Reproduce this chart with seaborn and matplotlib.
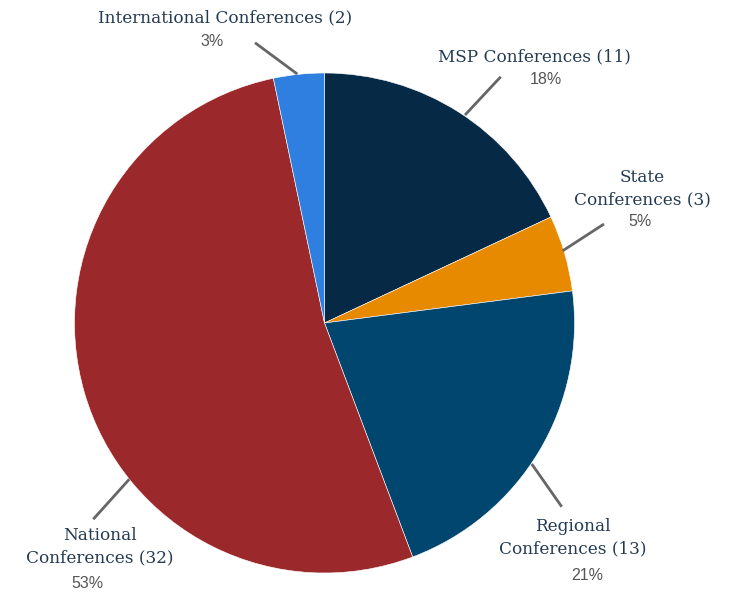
import matplotlib
matplotlib.use("Agg")
import matplotlib.pyplot as plt
import seaborn as sns

# data
categories = ["MSP Conferences", "State Conferences", "Regional Conferences",
              "National Conferences", "International Conferences"]
counts = [11, 3, 13, 32, 2]
pct_labels = ["18%", "5%", "21%", "53%", "3%"]
name_labels = ["MSP Conferences (11)", "State\nConferences (3)", "Regional\nConferences (13)",
               "National\nConferences (32)", "International Conferences (2)"]
colors = ["#062a45", "#e88a00", "#00466f", "#9b292b", "#2f7fe0"]

# layout (axes data units, pie radius = 1)
line_start = [(0.562, 0.832), (0.953, 0.289), (0.829, -0.564), (-0.781, -0.625), (-0.109, 0.996)]
line_end = [(0.705, 0.985), (1.118, 0.396), (0.949, -0.735), (-0.925, -0.785), (-0.278, 1.121)]
name_pos = [(0.84, 1.064), (1.27, 0.536), (0.994, -0.86), (-0.898, -0.896), (-0.398, 1.22)]
pct_pos = [(0.886, 0.976), (1.262, 0.404), (1.05, -1.012), (-0.95, -1.04), (-0.45, 1.128)]

sns.set_theme(style="white")

fig = plt.figure(figsize=(7.32, 5.94), dpi=100)
cx, cy, r = 324.5, 323, 250
ax = fig.add_axes([(cx - r) / 732, (594 - cy - r) / 594, 2 * r / 732, 2 * r / 594])

ax.pie(counts, colors=colors, startangle=90, counterclock=False, radius=1,
       wedgeprops=dict(edgecolor="white", linewidth=0.4))
ax.set_xlim(-1, 1)
ax.set_ylim(-1, 1)
ax.set_aspect("equal")
ax.axis("off")

for i in range(len(categories)):
    (x0, y0), (x1, y1) = line_start[i], line_end[i]
    ax.plot([x0, x1], [y0, y1], color="#666666", lw=2.0, solid_capstyle="butt", clip_on=False)
    ax.text(name_pos[i][0], name_pos[i][1], name_labels[i], ha="center", va="center",
            multialignment="center", fontsize=12.2, color="#233a52",
            family="DejaVu Serif", linespacing=1.4, clip_on=False)
    ax.text(pct_pos[i][0], pct_pos[i][1], pct_labels[i], ha="center", va="center",
            fontsize=11.5, color="#555555", family="Liberation Sans", clip_on=False)

fig.savefig("out.png", dpi=100)
